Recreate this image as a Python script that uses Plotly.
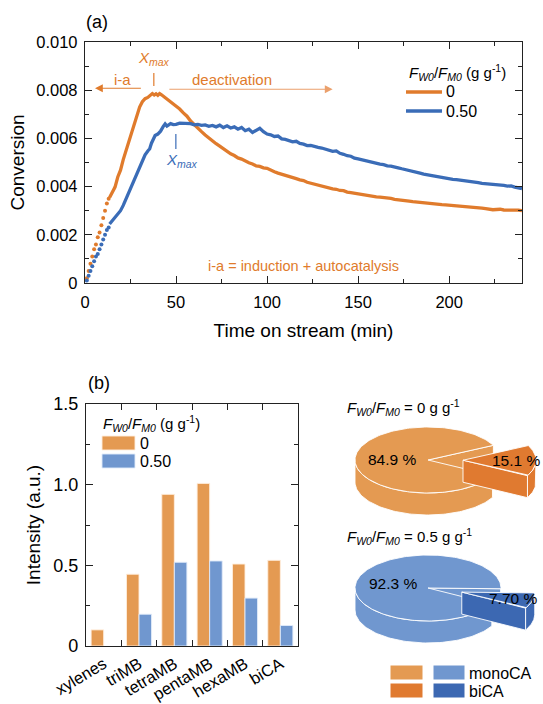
import numpy as np
import plotly.graph_objects as go

# ---------------- data: (a) conversion vs time on stream ----------------
t_dots = [1, 2, 3, 4, 5, 6, 7, 8, 9, 10, 11, 12, 13]
conv0_dots = [0.0002, 0.0005, 0.0008, 0.0011, 0.0014, 0.0016, 0.0019, 0.0021, 0.0024, 0.0027, 0.0030, 0.0033, 0.0035]
conv050_dots = [0.0001, 0.0003, 0.0005, 0.0007, 0.0009, 0.0011, 0.0012, 0.0014, 0.0016, 0.0018, 0.0020, 0.0022, 0.0023]

t0_line = [13.5, 15, 16.5, 18, 19.5, 21, 22.5, 24, 25.5, 27, 28.5, 30, 31.5, 33, 34.5, 36, 37, 38, 39, 40, 41, 42,
           43.5, 45, 46.5, 48, 50, 52, 54, 56, 58, 60, 62, 64, 66, 68, 70, 72, 74, 76, 78, 80, 82, 84, 86, 88, 90,
           92, 94, 96, 98, 100, 102, 104, 106, 108, 110, 112, 114, 116, 118, 120, 122, 124, 126, 128, 130, 132,
           134, 136, 138, 140, 142, 144, 146, 148, 150, 152, 154, 156, 158, 160, 162, 164, 166, 168, 170, 172,
           174, 176, 178, 180, 182, 184, 186, 188, 190, 192, 194, 196, 198, 200, 202, 204, 206, 208, 210, 212,
           214, 216, 218, 220, 222, 224, 226, 228, 230, 232, 234, 236, 238, 240]
conv0_line = [0.00355, 0.00378, 0.00398, 0.00440, 0.00468, 0.00512, 0.00548, 0.00590, 0.00628, 0.00665, 0.00700,
              0.00730, 0.00752, 0.00765, 0.00770, 0.00778, 0.00786, 0.00780, 0.00785, 0.00779, 0.00786, 0.00781,
              0.00772, 0.00766, 0.00758, 0.00745, 0.00735, 0.00722, 0.00706, 0.00692, 0.00672, 0.00656, 0.00641,
              0.00628, 0.00614, 0.00601, 0.00590, 0.00578, 0.00568, 0.00557, 0.00548, 0.00536, 0.00529, 0.00519,
              0.00514, 0.00505, 0.00499, 0.00494, 0.00486, 0.00484, 0.00478, 0.00476, 0.00468, 0.00462, 0.00456,
              0.00452, 0.00446, 0.00443, 0.00437, 0.00433, 0.00428, 0.00425, 0.00418, 0.00414, 0.00409, 0.00406,
              0.00402, 0.00398, 0.00396, 0.00391, 0.00389, 0.00384, 0.00383, 0.00377, 0.00375, 0.00372, 0.00369,
              0.00368, 0.00365, 0.00361, 0.00360, 0.00357, 0.00356, 0.00355, 0.00352, 0.00351, 0.00347, 0.00346,
              0.00343, 0.00341, 0.00340, 0.00338, 0.00336, 0.00336, 0.00333, 0.00331, 0.00329, 0.00327, 0.00327,
              0.00325, 0.00324, 0.00323, 0.00322, 0.00320, 0.00320, 0.00318, 0.00318, 0.00316, 0.00314, 0.00313,
              0.00311, 0.00309, 0.00306, 0.00304, 0.00305, 0.00306, 0.00303, 0.00303, 0.00304, 0.00301, 0.00302,
              0.00300]

t050_line = [13.5, 15, 16.5, 18, 19.5, 21, 22.5, 24, 25.5, 27, 28.5, 30, 31.5, 33, 34.5, 35.5, 36.5, 37.5, 38.5,
             40, 41.5, 43, 44, 45, 46, 47, 48.5, 50, 52, 54, 56, 58, 60, 62, 64, 66, 68, 70, 72, 74, 76, 78, 80,
             82, 84, 86, 88, 90, 92, 94, 96, 98, 100, 102, 104, 106, 108, 110, 112, 114, 116, 118, 120, 122, 124,
             126, 128, 130, 132, 134, 136, 138, 140, 142, 144, 146, 148, 150, 152, 154, 156, 158, 160, 162, 164,
             166, 168, 170, 172, 174, 176, 178, 180, 182, 184, 186, 188, 190, 192, 194, 196, 198, 200, 202, 204,
             206, 208, 210, 212, 214, 216, 218, 220, 222, 224, 226, 228, 230, 232, 234, 236, 238, 240]
conv050_line = [0.00245, 0.00258, 0.00272, 0.00285, 0.00300, 0.00322, 0.00348, 0.00375, 0.00400, 0.00425,
                0.00455, 0.00485, 0.00510, 0.00532, 0.00548, 0.00556, 0.00580, 0.00600, 0.00612, 0.00618,
                0.00630, 0.00650, 0.00660, 0.00651, 0.00655, 0.00661, 0.00657, 0.00658, 0.00663, 0.00662,
                0.00659, 0.00661, 0.00656, 0.00658, 0.00654, 0.00656, 0.00650, 0.00654, 0.00648, 0.00655,
                0.00645, 0.00652, 0.00643, 0.00648, 0.00638, 0.00645, 0.00632, 0.00638, 0.00625, 0.00632,
                0.00642, 0.00628, 0.00618, 0.00615, 0.00608, 0.00610, 0.00598, 0.00596, 0.00590, 0.00586,
                0.00588, 0.00579, 0.00576, 0.00570, 0.00571, 0.00566, 0.00563, 0.00560, 0.00555, 0.00552,
                0.00546, 0.00548, 0.00538, 0.00534, 0.00528, 0.00526, 0.00518, 0.00515, 0.00511, 0.00508,
                0.00503, 0.00500, 0.00497, 0.00493, 0.00491, 0.00486, 0.00485, 0.00480, 0.00478, 0.00474,
                0.00471, 0.00467, 0.00463, 0.00459, 0.00456, 0.00452, 0.00449, 0.00446, 0.00443, 0.00440,
                0.00437, 0.00436, 0.00434, 0.00430, 0.00429, 0.00426, 0.00425, 0.00423, 0.00421, 0.00420,
                0.00416, 0.00413, 0.00412, 0.00410, 0.00410, 0.00408, 0.00409, 0.00405, 0.00402, 0.00403,
                0.00398, 0.00395, 0.00392]

time_ticks = [0, 50, 100, 150, 200]
conv_ticks = [0, 0.002, 0.004, 0.006, 0.008, 0.010]
conv_tick_labels = ["0", "0.002", "0.004", "0.006", "0.008", "0.010"]
series_names = ["0", "0.50"]

# ---------------- data: (b) product intensities ----------------
species = ["xylenes", "triMB", "tetraMB", "pentaMB", "hexaMB", "biCA"]
intensity_0 = [0.10, 0.445, 0.94, 1.008, 0.508, 0.531]
intensity_050 = [None, 0.197, 0.519, 0.527, 0.297, 0.127]
int_ticks = [0, 0.5, 1.0, 1.5]
int_tick_labels = ["0", "0.5", "1.0", "1.5"]

# ---------------- data: (b) CA distribution pies ----------------
pie_labels = ["monoCA", "biCA"]
pie_0 = [84.9, 15.1]
pie_050 = [92.3, 7.70]
pie_text_0 = ["84.9 %", "15.1 %"]
pie_text_050 = ["92.3 %", "7.70 %"]

# ---------------- style ----------------
W, H = 543, 704
FONT = "Liberation Sans, Arial, Helvetica, sans-serif"
ORANGE = "#E07B2C"
BLUE = "#3A6CB7"
BAR_OR = "#E49A52"
BAR_BL = "#7097CF"
PIE_OR = ["#E49A52", "#E07A30"]
PIE_BL = ["#7097CF", "#3C68B2"]
AX = "#222222"
FW = "<i>F</i><sub><i>W0</i></sub>/<i>F</i><sub><i>M0</i></sub>"


def px(x):
    return x / W


def py(y):
    return 1 - y / H


fig = go.Figure()

# ---- (a) curves ----
fig.add_trace(go.Scatter(x=t_dots, y=conv0_dots, mode="markers", marker=dict(color=ORANGE, size=4),
                         showlegend=False, xaxis="x", yaxis="y"))
fig.add_trace(go.Scatter(x=t_dots, y=conv050_dots, mode="markers", marker=dict(color=BLUE, size=4),
                         showlegend=False, xaxis="x", yaxis="y"))
fig.add_trace(go.Scatter(x=t0_line, y=conv0_line, mode="lines", line=dict(color=ORANGE, width=3.3),
                         name=series_names[0], xaxis="x", yaxis="y"))
fig.add_trace(go.Scatter(x=t050_line, y=conv050_line, mode="lines", line=dict(color=BLUE, width=3.3),
                         name=series_names[1], xaxis="x", yaxis="y"))

# ---- (b) bars ----
fig.add_trace(go.Bar(x=species, y=intensity_0,
                     marker=dict(color=BAR_OR, line=dict(color="rgba(255,238,222,0.9)", width=1)),
                     name=series_names[0], xaxis="x2", yaxis="y2"))
fig.add_trace(go.Bar(x=species, y=intensity_050,
                     marker=dict(color=BAR_BL, line=dict(color="rgba(225,235,250,0.9)", width=1)),
                     name=series_names[1], xaxis="x2", yaxis="y2"))


# ---- (b) 3-D pies drawn on a pixel-scaled hidden axis ----
def poly(xs, ys, col):
    return go.Scatter(x=xs, y=ys, mode="lines", fill="toself", fillcolor=col,
                      line=dict(color="white", width=0.9), hoverinfo="skip",
                      xaxis="x3", yaxis="y3")


def pie3d(values, texts, colors, cx, cy, rx, ry, depth, upper_edge, explode):
    total = float(sum(values))
    spans = [v / total * 360.0 for v in values]
    w_hi = upper_edge
    w_lo = upper_edge - spans[1]
    slices = [(w_hi, w_hi + spans[0], colors[0], 0.0, texts[0], 0.5),
              (w_lo, w_hi, colors[1], explode, texts[1], 0.72)]
    traces, labels = [], []
    for a0, a1, col, ex, txt, lr in slices:
        mid = np.radians((a0 + a1) / 2.0)
        ox = cx + ex * np.cos(mid)
        oy = cy - ex * np.sin(mid) * ry / rx
        # radial faces facing the viewer
        for edge, normal in ((a0, a0 - 90.0), (a1, a1 + 90.0)):
            if np.sin(np.radians(normal)) < 0:
                e = np.radians(edge)
                ex_, ey_ = ox + rx * np.cos(e), oy - ry * np.sin(e)
                traces.append(poly([ox, ex_, ex_, ox, ox], [oy, ey_, ey_ + depth, oy + depth, oy], col))
        # front side wall
        for k in (-1, 0, 1):
            lo = max(a0, 180 + 360 * k)
            hi = min(a1, 360 + 360 * k)
            if hi > lo:
                th = np.radians(np.linspace(lo, hi, 80))
                xt = ox + rx * np.cos(th)
                yt = oy - ry * np.sin(th)
                xs = np.concatenate([xt, xt[::-1], xt[:1]])
                ys = np.concatenate([yt, (yt + depth)[::-1], yt[:1]])
                traces.append(poly(xs, ys, col))
        # top face
        th = np.radians(np.linspace(a0, a1, 200))
        xs = np.concatenate([[ox], ox + rx * np.cos(th), [ox]])
        ys = np.concatenate([[oy], oy - ry * np.sin(th), [oy]])
        traces.append(poly(xs, ys, col))
        labels.append((ox + lr * rx * np.cos(mid), oy - lr * ry * np.sin(mid), txt))
    return traces, labels


pie_annots = []
for vals, txts, cols, cy, upper in ((pie_0, pie_text_0, PIE_OR, 460, 26.4),
                                     (pie_050, pie_text_050, PIE_BL, 588, -1.3)):
    trs, labs = pie3d(vals, txts, cols, cx=428, cy=cy, rx=73, ry=33, depth=22, upper_edge=upper, explode=35)
    for tr in trs:
        fig.add_trace(tr)
    for lx, ly, t in labs:
        pie_annots.append(dict(x=lx, y=ly, xref="x3", yref="y3", text=t, showarrow=False,
                               xanchor="center", yanchor="middle", font=dict(size=15.5, color="black")))

# ---------------- layout ----------------
tick_common = dict(showline=True, linecolor=AX, linewidth=1.3, mirror="allticks", ticks="inside",
                   tickwidth=1.3, tickcolor=AX, showgrid=False, zeroline=False, automargin=False)

fig.update_layout(
    template="none",
    width=W, height=H, margin=dict(l=0, r=0, t=0, b=0, pad=0), autosize=False,
    paper_bgcolor="white", plot_bgcolor="rgba(0,0,0,0)", showlegend=False,
    font=dict(family=FONT, color="black", size=16),
    bargap=0.29, bargroupgap=0.0, barmode="group",
    xaxis=dict(domain=[px(85), px(522)], range=[0, 240], tickvals=time_ticks, ticklen=7,
               tickfont=dict(size=16.5, color="black"),
               minor=dict(ticks="inside", dtick=25, tick0=0, ticklen=4, tickwidth=1.3, tickcolor=AX),
               title=dict(text="Time on stream (min)", font=dict(size=19), standoff=13),
               anchor="y", ticklabelstandoff=4, **tick_common),
    yaxis=dict(domain=[py(283), py(42)], range=[0, 0.010], tickvals=conv_ticks, ticktext=conv_tick_labels,
               tickfont=dict(size=16.5, color="black"),
               ticklen=7, minor=dict(ticks="inside", dtick=0.001, tick0=0, ticklen=4, tickwidth=1.3, tickcolor=AX),
               title=dict(text="Conversion", font=dict(size=19), standoff=6),
               anchor="x", ticklabelstandoff=3, **tick_common),
    xaxis2=dict(domain=[px(86), px(298)], type="category", tickson="boundaries", ticklen=6, tickangle=-31,
                tickfont=dict(size=16.5, color="black"),
                anchor="y2", ticklabelstandoff=1, **tick_common),
    yaxis2=dict(domain=[py(646), py(404)], range=[0, 1.5], tickvals=int_ticks, ticktext=int_tick_labels,
                tickfont=dict(size=18, color="black"),
                ticklen=7, minor=dict(ticks="inside", dtick=0.25, tick0=0, ticklen=4, tickwidth=1.3, tickcolor=AX),
                title=dict(text="Intensity (a.u.)", font=dict(size=19), standoff=7),
                anchor="x2", ticklabelstandoff=3, **tick_common),
    xaxis3=dict(domain=[px(300), 1], range=[300, 543], visible=False, fixedrange=True, automargin=False),
    yaxis3=dict(domain=[0, py(380)], range=[704, 380], visible=False, fixedrange=True, anchor="x3",
                automargin=False),
)


def note(x, y, text, size=16, color="black", xanchor="left"):
    return dict(x=px(x), y=py(y), xref="paper", yref="paper", text=text, showarrow=False,
                xanchor=xanchor, yanchor="middle", font=dict(size=size, color=color))


annots = [
    note(84, 22, "(a)", 18),
    note(86, 383, "(b)", 18),
    dict(x=37.8, y=0.0093, xref="x", yref="y", text="<i>X</i><sub><i>max</i></sub>", showarrow=False,
         xanchor="center", yanchor="middle", font=dict(size=15, color=ORANGE)),
    dict(x=53.5, y=0.0051, xref="x", yref="y", text="<i>X</i><sub><i>max</i></sub>", showarrow=False,
         xanchor="center", yanchor="middle", font=dict(size=15, color=BLUE)),
    dict(x=20.5, y=0.00843, xref="x", yref="y", text="i-a", showarrow=False, xanchor="center",
         yanchor="middle", font=dict(size=15, color=ORANGE)),
    dict(x=81, y=0.00843, xref="x", yref="y", text="deactivation", showarrow=False, xanchor="center",
         yanchor="middle", font=dict(size=15, color=ORANGE)),
    dict(x=120, y=0.00072, xref="x", yref="y", text="i-a = induction + autocatalysis", showarrow=False,
         xanchor="center", yanchor="middle", font=dict(size=14.5, color=ORANGE)),
    # arrows
    dict(x=5.5, y=0.00808, ax=31.5, ay=0.00808, xref="x", yref="y", axref="x", ayref="y", text="",
         showarrow=True, arrowhead=2, arrowsize=1.3, arrowwidth=1.2, arrowcolor=ORANGE),
    dict(x=136, y=0.00804, ax=45.5, ay=0.00804, xref="x", yref="y", axref="x", ayref="y", text="",
         showarrow=True, arrowhead=2, arrowsize=1.3, arrowwidth=1.2, arrowcolor="#EBA06C"),
    # line legend
    note(407, 72, FW + " (g g<sup>-1</sup>)", 15),
    note(444, 92, series_names[0], 16),
    note(444, 111, series_names[1], 16),
    # bar legend
    note(101, 423, FW + " (g g<sup>-1</sup>)", 15),
    note(138, 443, series_names[0], 16),
    note(138, 461, series_names[1], 16),
    # pie titles
    note(345, 407, FW + " = 0 g g<sup>-1</sup>", 15),
    note(345, 536, FW + " = 0.5 g g<sup>-1</sup>", 15),
    # pie legend
    note(467, 673, pie_labels[0], 16),
    note(467, 691, pie_labels[1], 16),
]
fig.update_layout(annotations=annots + pie_annots)

shapes = [
    dict(type="line", xref="x", yref="y", x0=37.8, x1=37.8, y0=0.00817, y1=0.00871,
         line=dict(color=ORANGE, width=1.2)),
    dict(type="line", xref="x", yref="y", x0=49.9, x1=49.9, y0=0.00556, y1=0.00618,
         line=dict(color=BLUE, width=1.2)),
    dict(type="line", xref="paper", yref="paper", x0=px(406), x1=px(442), y0=py(92), y1=py(92),
         line=dict(color=ORANGE, width=3.5)),
    dict(type="line", xref="paper", yref="paper", x0=px(406), x1=px(442), y0=py(111), y1=py(111),
         line=dict(color=BLUE, width=3.5)),
]
swatches = [
    (102, 135, 436, 450, BAR_OR, "rgba(255,238,222,0.9)"),
    (102, 135, 454, 468, BAR_BL, "rgba(225,235,250,0.9)"),
    (390, 423, 665, 680, PIE_OR[0], "white"),
    (433, 465, 665, 680, PIE_BL[0], "white"),
    (390, 423, 683, 698, PIE_OR[1], "white"),
    (433, 465, 683, 698, PIE_BL[1], "white"),
]
for x0, x1, y0, y1, c, lc in swatches:
    shapes.append(dict(type="rect", xref="paper", yref="paper", x0=px(x0), x1=px(x1), y0=py(y1), y1=py(y0),
                       fillcolor=c, line=dict(color=lc, width=1)))
fig.update_layout(shapes=shapes)

fig.write_html("out.html")
